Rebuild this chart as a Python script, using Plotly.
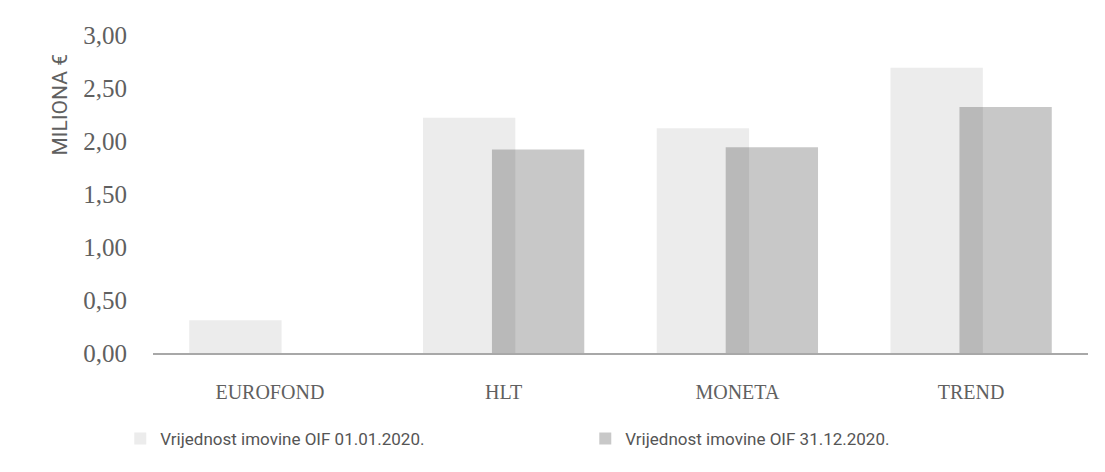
import plotly.graph_objects as go

categories = ["EUROFOND", "HLT", "MONETA", "TREND"]
vrijednost_01_01_2020 = [0.31, 2.22, 2.12, 2.69]
vrijednost_31_12_2020 = [0.0, 1.92, 1.94, 2.32]
series_names = ["Vrijednost imovine OIF 01.01.2020.", "Vrijednost imovine OIF 31.12.2020."]
y_ticks = [0, 0.5, 1, 1.5, 2, 2.5, 3]
y_title = "MILIONA €"

serif = "Liberation Serif, DejaVu Serif, serif"
sans = "Liberation Sans Narrow, Roboto, Liberation Sans, sans-serif"

fig = go.Figure()
fig.add_trace(go.Bar(
    x=categories, y=vrijednost_01_01_2020, name=series_names[0],
    width=0.395, offset=-0.345,
    marker=dict(color="#ececec", line=dict(width=0)),
))
fig.add_trace(go.Bar(
    x=categories, y=vrijednost_31_12_2020, name=series_names[1],
    width=0.395, offset=-0.05,
    marker=dict(color="rgba(0,0,0,0.215)", line=dict(width=0)),
))

fig.update_layout(
    width=1105, height=472,
    barmode="overlay",
    separators=", ",
    paper_bgcolor="white", plot_bgcolor="white",
    margin=dict(l=145, r=25, t=27, b=127, autoexpand=False),
    showlegend=True,
    legend=dict(
        orientation="h", x=-0.035, xanchor="left", y=-0.27, yanchor="middle",
        font=dict(family=sans, size=17, color="#555555"),
        entrywidth=420, traceorder="normal", itemwidth=30,
    ),
    xaxis=dict(
        showline=True, linecolor="#a8a8a8", linewidth=1.5,
        ticks="outside", ticklen=20, tickcolor="rgba(0,0,0,0)",
        tickfont=dict(family=serif, size=20, color="#606060"),
        showgrid=False,
    ),
    yaxis=dict(
        range=[0, 3], tickvals=y_ticks, tickformat=".2f",
        showgrid=False, zeroline=False, showline=False,
        ticks="outside", ticklen=20, tickcolor="rgba(0,0,0,0)",
        tickfont=dict(family=serif, size=25, color="#606060"),
    ),
    annotations=[dict(
        text=y_title, textangle=-90, xref="paper", yref="paper",
        x=-0.1, y=0.78, xanchor="center", yanchor="middle", showarrow=False,
        font=dict(family=sans, size=21, color="#606060"),
    )],
)

fig.write_html("out.html")
